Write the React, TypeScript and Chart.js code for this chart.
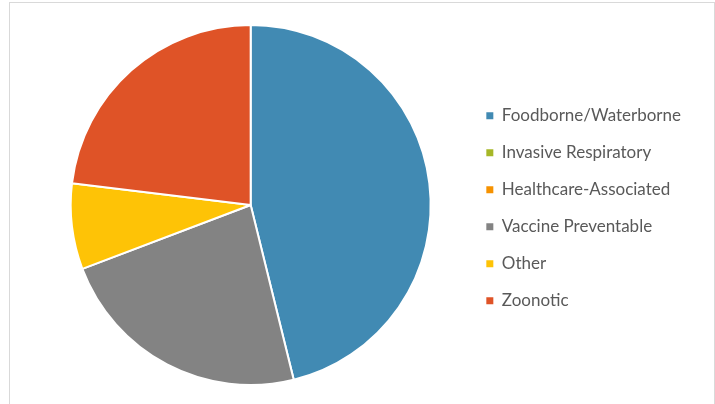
import React, { useEffect, useRef } from "react";
import { Chart, registerables } from "chart.js";

Chart.register(...registerables);

const categories = [
  "Foodborne/Waterborne",
  "Invasive Respiratory",
  "Healthcare-Associated",
  "Vaccine Preventable",
  "Other",
  "Zoonotic",
];
const counts = [12, 0, 0, 6, 2, 6];
const colors = ["#418AB3", "#A6B727", "#F69200", "#838383", "#FEC306", "#DF5327"];

export default function App() {
  const ref = useRef<HTMLCanvasElement | null>(null);
  useEffect(() => {
    if (!ref.current) return;
    const baseGen = (Chart as any).overrides.pie.plugins.legend.labels.generateLabels;
    const chart = new Chart(ref.current, {
      type: "pie",
      data: {
        labels: categories,
        datasets: [
          {
            data: counts,
            backgroundColor: colors,
            borderColor: "#ffffff",
            borderWidth: 2,
          },
        ],
      },
      options: {
        animation: false,
        responsive: true,
        maintainAspectRatio: false,
        layout: { padding: { top: 21, bottom: 18, left: 25, right: 23 } },
        plugins: {
          tooltip: { enabled: false },
          legend: {
            position: "right",
            title: { display: true, text: " ", font: { size: 2 }, padding: 2 },
            labels: {
              boxWidth: 7,
              boxHeight: 7,
              padding: 20,
              color: "#595959",
              font: { family: "Lato, 'Open Sans', sans-serif", size: 17 },
              generateLabels: (c: any) =>
                baseGen(c).map((l: any) => ({ ...l, lineWidth: 0, strokeStyle: "rgba(0,0,0,0)" })),
            },
          },
        },
      },
    });
    return () => chart.destroy();
  }, []);
  return (
    <div
      style={{
        position: "absolute",
        left: 9,
        top: 2,
        width: 706,
        height: 410,
        border: "1px solid #d9d9d9",
        boxSizing: "border-box",
        background: "#fff",
      }}
    >
      <div style={{ position: "absolute", left: 0, top: 0, width: 704, height: 401 }}>
        <canvas ref={ref} />
      </div>
    </div>
  );
}
